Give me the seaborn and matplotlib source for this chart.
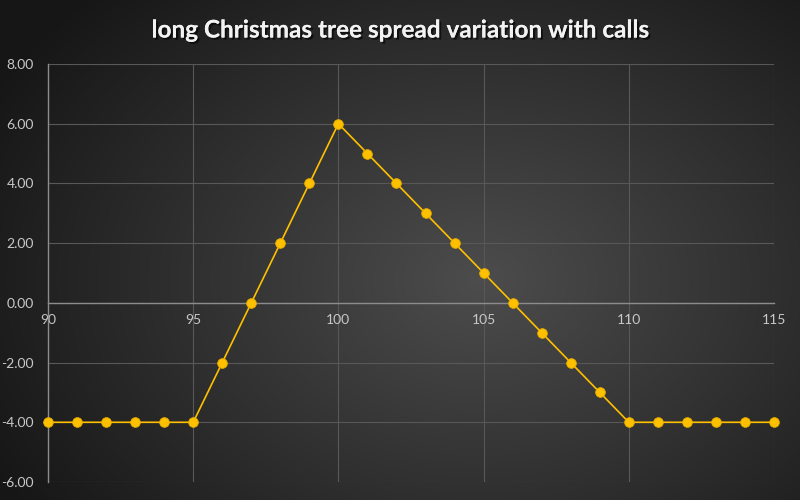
import numpy as np
import pandas as pd
import matplotlib
matplotlib.use("Agg")
import matplotlib.pyplot as plt
import matplotlib.patheffects as pe
import seaborn as sns

title = "long Christmas tree spread variation with calls"
prices = [90, 91, 92, 93, 94, 95, 96, 97, 98, 99, 100, 101, 102, 103, 104,
          105, 106, 107, 108, 109, 110, 111, 112, 113, 114, 115]
payoff = [-4, -4, -4, -4, -4, -4, -2, 0, 2, 4, 6, 5, 4, 3, 2,
          1, 0, -1, -2, -3, -4, -4, -4, -4, -4, -4]
x_ticks = [90, 95, 100, 105, 110, 115]
y_ticks = [-6, -4, -2, 0, 2, 4, 6, 8]

df = pd.DataFrame({"price": prices, "payoff": payoff})

sns.set_theme(style="dark")
plt.rcParams['font.family'] = ['Lato', 'DejaVu Sans']

fig = plt.figure(figsize=(8, 5), dpi=100)

# radial gradient background
bg = fig.add_axes([0, 0, 1, 1], zorder=-10)
yy, xx = np.mgrid[0:500, 0:800]
r = np.sqrt(((xx - 480) / 520.0) ** 2 + ((yy - 280) / 380.0) ** 2)
v = np.clip(0.30 - 0.20 * r, 0.09, 0.30)
img = np.dstack([v, v, v])
bg.imshow(img, aspect='auto', extent=[0, 1, 0, 1], origin='upper')
bg.axis('off')

ax = fig.add_axes([0.06, 0.036, 0.9075, 0.836])
ax.set_facecolor('none')
ax.patch.set_alpha(0)

sns.lineplot(data=df, x="price", y="payoff", ax=ax, color="#FFC000",
             linewidth=1.2, marker="o", markersize=7,
             markerfacecolor="#FFC000", markeredgecolor="#E0A800",
             markeredgewidth=0.6, clip_on=False, zorder=5)

ax.set_xlim(90, 115)
ax.set_ylim(-6, 8)
ax.set_xticks(x_ticks)
ax.set_yticks(y_ticks)
ax.set_yticklabels([f"{t:.2f}" for t in y_ticks])
ax.set_xticklabels([str(t) for t in x_ticks])
ax.grid(True, color="#585858", linewidth=0.8)
ax.set_axisbelow(True)

for s in ['top', 'right']:
    ax.spines[s].set_visible(False)
ax.spines['bottom'].set_position(('data', 0))
ax.spines['bottom'].set_color('#8c8c8c')
ax.spines['bottom'].set_linewidth(1.0)
ax.spines['left'].set_color('#8c8c8c')
ax.spines['left'].set_linewidth(1.0)

ax.tick_params(axis='both', length=0, colors='#c8c8c8', labelsize=10)
ax.tick_params(axis='y', pad=10)
ax.tick_params(axis='x', pad=8)
ax.set_xlabel("")
ax.set_ylabel("")

fig.text(0.5, 0.94, title, ha='center', va='center', color='#f2f2f2',
         fontsize=17.5, fontweight='bold',
         path_effects=[pe.withSimplePatchShadow(offset=(1.5, -1.5), shadow_rgbFace='black', alpha=0.6), pe.Normal()])

fig.savefig("out.png", dpi=100)
